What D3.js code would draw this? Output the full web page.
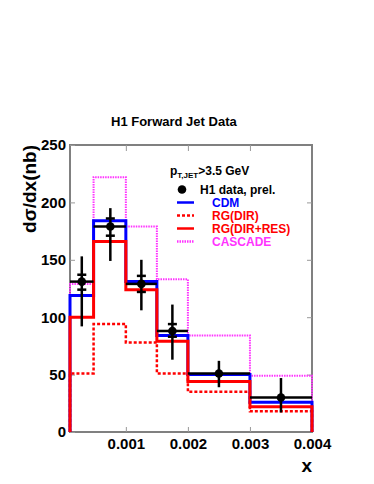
<!DOCTYPE html>
<html>
<head>
<meta charset="utf-8">
<script src="https://cdn.jsdelivr.net/npm/d3@7"></script>
<style>
  body { margin: 0; background: #fff; }
  svg { font-family: "Liberation Sans", Arial, sans-serif; font-weight: bold; }
</style>
</head>
<body>
<div class="plot-item"></div>
<script>
// bin edges in x
var binEdges = [0.0001, 0.00048, 0.001, 0.0015, 0.002, 0.003, 0.004];
// data points
var dataX = [0.00029, 0.00075, 0.00125, 0.00175, 0.0025, 0.0035];
var dataY = [131, 179, 129, 88, 51, 30];
var totLow = [92, 149, 106, 63, 39, 17];
var totHigh = [153, 195, 150, 111, 62, 47];
var statLow = [124, 171, 122, 83, null, null];
var statHigh = [137, 186, 136, 94, null, null];
// model predictions per bin
var cdm = [119, 184, 131, 84, 50, 26];
var rgDir = [51, 94, 78, 51, 35, 18];
var rgDirRes = [100, 166, 124, 79, 44, 22];
var cascade = [129, 222, 179, 133, 84, 49];
var xTicks = [0.001, 0.002, 0.003, 0.004];
var yTicks = [0, 50, 100, 150, 200, 250];

var w = 374, h = 484;
var margin = { top: 145, bottom: 52, left: 70, right: 62 };
var width = w - margin.left - margin.right;
var height = h - margin.top - margin.bottom;

var svg = d3.select(".plot-item").append("svg")
  .attr("width", w)
  .attr("height", h);

var chart = svg.append("g")
  .attr("transform", "translate(" + margin.left + "," + margin.top + ")");

var x = d3.scaleLinear().domain([0.0001, 0.004]).range([0, width]);
var y = d3.scaleLinear().domain([0, 250]).range([height, 0]);

// title
svg.append("text")
  .attr("x", 111).attr("y", 126)
  .style("font-size", "13px")
  .text("H1 Forward Jet Data");

// frame
chart.append("rect")
  .attr("width", width).attr("height", height)
  .attr("fill", "none").attr("stroke", "#808080").attr("stroke-width", 2);

// axes
var xAxis = d3.axisBottom(x).tickValues(xTicks).tickSize(-5).tickPadding(8)
  .tickFormat(d3.format(".3f"));
var yAxis = d3.axisLeft(y).tickValues(yTicks).tickSize(-5).tickPadding(4);

var gx = chart.append("g").attr("transform", "translate(0," + height + ")").call(xAxis);
var gy = chart.append("g").call(yAxis);
[gx, gy].forEach(function(g) {
  g.select(".domain").remove();
  g.selectAll(".tick line").attr("stroke", "#999").attr("stroke-width", 1);
  g.selectAll(".tick text").style("font-size", "15px").attr("fill", "#000")
    .style("font-family", "Liberation Sans, Arial, sans-serif").style("font-weight", "bold");
});
gx.selectAll(".tick text").attr("dy", "0.71em").attr("y", 6);

// mirrored ticks top / right
chart.append("g").call(d3.axisTop(x).tickValues(xTicks.slice(0, 3)).tickSize(-6).tickFormat(""))
  .call(function(g) { g.select(".domain").remove(); g.selectAll("line").attr("stroke", "#999"); });
chart.append("g").attr("transform", "translate(" + width + ",0)")
  .call(d3.axisRight(y).tickValues(yTicks.slice(1, 5)).tickSize(-5).tickFormat(""))
  .call(function(g) { g.select(".domain").remove(); g.selectAll("line").attr("stroke", "#999"); });

// axis labels
svg.append("text")
  .attr("transform", "translate(36," + margin.top + ") rotate(-90)")
  .attr("text-anchor", "end")
  .style("font-size", "19px")
  .text("d\u03c3/dx(nb)");
svg.append("text")
  .attr("x", margin.left + width).attr("y", 472)
  .attr("text-anchor", "end")
  .style("font-size", "19px")
  .text("x");

// histogram outline as steps from zero to zero
function histPath(vals) {
  var pts = [[x(binEdges[0]), y(0)]];
  vals.forEach(function(v, i) {
    pts.push([x(binEdges[i]), y(v)]);
    pts.push([x(binEdges[i + 1]), y(v)]);
  });
  pts.push([x(binEdges[binEdges.length - 1]), y(0)]);
  return d3.line()(pts);
}

var series = [
  { vals: rgDir, color: "#ff0000", dash: "3,2", wid: 2.5 },
  { vals: cascade, color: "#ff33ff", dash: "1.5,1", wid: 2 },
  { vals: cdm, color: "#0000ff", dash: null, wid: 3 },
  { vals: rgDirRes, color: "#ff0000", dash: null, wid: 3 }
];
series.forEach(function(s) {
  chart.append("path")
    .attr("d", histPath(s.vals))
    .attr("fill", "none")
    .attr("stroke", s.color)
    .attr("stroke-width", s.wid)
    .attr("stroke-dasharray", s.dash);
});

// data points
var pts = chart.append("g").attr("stroke", "#000").attr("stroke-width", 2.5);
dataX.forEach(function(xv, i) {
  pts.append("line")
    .attr("x1", x(binEdges[i])).attr("x2", x(binEdges[i + 1]))
    .attr("y1", y(dataY[i])).attr("y2", y(dataY[i]));
  pts.append("line")
    .attr("x1", x(xv)).attr("x2", x(xv))
    .attr("y1", y(totLow[i])).attr("y2", y(totHigh[i]));
  [statLow[i], statHigh[i]].forEach(function(sv) {
    if (sv === null) return;
    pts.append("line")
      .attr("x1", x(xv) - 4.5).attr("x2", x(xv) + 4.5)
      .attr("y1", y(sv)).attr("y2", y(sv));
  });
  chart.append("circle")
    .attr("cx", x(xv)).attr("cy", y(dataY[i])).attr("r", 4.3)
    .attr("fill", "#000");
});

// legend
var lg = svg.append("g").style("font-size", "12px");
var pt = lg.append("text").attr("x", 170).attr("y", 175);
pt.append("tspan").text("p");
pt.append("tspan").attr("dy", 3).style("font-size", "8px").text("T,JET");
pt.append("tspan").attr("dy", -3).text(">3.5 GeV");

lg.append("circle").attr("cx", 182).attr("cy", 189.5).attr("r", 4.3).attr("fill", "#000");
lg.append("text").attr("x", 200).attr("y", 194).text("H1 data, prel.");

var legendItems = [
  { label: "CDM", color: "#0000ff", dash: null, y: 202.5 },
  { label: "RG(DIR)", color: "#ff0000", dash: "3,2", y: 215.5 },
  { label: "RG(DIR+RES)", color: "#ff0000", dash: null, y: 228.5 },
  { label: "CASCADE", color: "#ff33ff", dash: "1.5,1", y: 241.5 }
];
legendItems.forEach(function(d) {
  lg.append("line")
    .attr("x1", 177).attr("x2", 194).attr("y1", d.y).attr("y2", d.y)
    .attr("stroke", d.color).attr("stroke-width", 2.5)
    .attr("stroke-dasharray", d.dash);
  lg.append("text").attr("x", 212).attr("y", d.y + 4.5)
    .attr("fill", d.color).text(d.label);
});
</script>
</body>
</html>
